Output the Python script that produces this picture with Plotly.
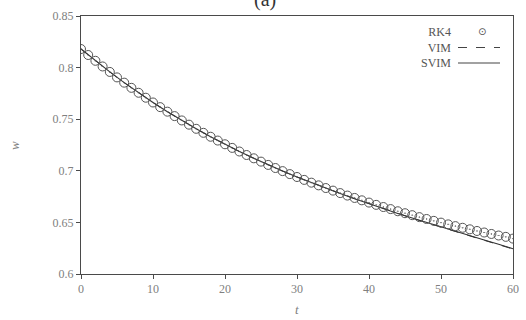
import plotly.graph_objects as go

# Time grid and solutions
t_rk4 = list(range(0, 61))
w_rk4 = [
    0.8180, 0.8122, 0.8066, 0.8011, 0.7958, 0.7905, 0.7854, 0.7804, 0.7756, 0.7708,
    0.7662, 0.7617, 0.7573, 0.7530, 0.7488, 0.7447, 0.7407, 0.7368, 0.7330, 0.7293,
    0.7257, 0.7222, 0.7187, 0.7153, 0.7121, 0.7089, 0.7057, 0.7027, 0.6997, 0.6968,
    0.6940, 0.6912, 0.6885, 0.6859, 0.6833, 0.6808, 0.6784, 0.6760, 0.6737, 0.6714,
    0.6692, 0.6670, 0.6649, 0.6629, 0.6608, 0.6589, 0.6570, 0.6551, 0.6533, 0.6515,
    0.6498, 0.6481, 0.6464, 0.6448, 0.6433, 0.6417, 0.6402, 0.6388, 0.6373, 0.6360,
    0.6343,
]

t_line = list(range(0, 61, 2))
w_svim = [
    0.8180, 0.8066, 0.7958, 0.7854, 0.7756, 0.7662, 0.7573, 0.7488, 0.7407, 0.7330,
    0.7257, 0.7187, 0.7121, 0.7057, 0.6997, 0.6940, 0.6885, 0.6831, 0.6780, 0.6730,
    0.6681, 0.6633, 0.6587, 0.6542, 0.6498, 0.6455, 0.6412, 0.6371, 0.6329, 0.6289,
    0.6245,
]
w_vim = [
    0.8180, 0.8066, 0.7958, 0.7854, 0.7756, 0.7662, 0.7573, 0.7488, 0.7407, 0.7330,
    0.7257, 0.7187, 0.7121, 0.7057, 0.6997, 0.6940, 0.6885, 0.6831, 0.6780, 0.6730,
    0.6681, 0.6633, 0.6586, 0.6541, 0.6497, 0.6454, 0.6411, 0.6369, 0.6327, 0.6286,
    0.6242,
]

legend_labels = ["RK4", "VIM", "SVIM"]
x_ticks = [0, 10, 20, 30, 40, 50, 60]
y_ticks = [0.6, 0.65, 0.7, 0.75, 0.8, 0.85]
y_tick_text = ["0.6", "0.65", "0.7", "0.75", "0.8", "0.85"]

SERIF = "Liberation Serif"
INK = "#4a4a4a"
LABEL = "#808080"

fig = go.Figure()
fig.add_trace(go.Scatter(
    x=t_line, y=w_svim, mode="lines", name="SVIM",
    line=dict(color="#333333", width=1.1),
))
fig.add_trace(go.Scatter(
    x=t_line, y=w_vim, mode="lines", name="VIM",
    line=dict(color="#333333", width=1.0, dash="dash"),
))
fig.add_trace(go.Scatter(
    x=t_rk4, y=w_rk4, mode="markers", name="RK4",
    marker=dict(symbol="circle-open-dot", size=9, color="#555555",
                line=dict(color="#555555", width=1)),
))

# Plot-area pixel helpers for the hand-placed legend and labels
def px_x(p):
    return (p - 81) / 432.0

def px_y(p):
    return (274 - p) / 258.0

annotations = [
    # legend labels, right-aligned, samples drawn to their right
    dict(x=px_x(453), y=px_y(47), xref="paper", yref="paper",
         text="<br>".join(legend_labels), align="right", showarrow=False,
         xanchor="right", yanchor="middle",
         font=dict(family=SERIF, size=12, color="#555555")),
    dict(x=px_x(482), y=px_y(31.5), xref="paper", yref="paper",
         text="⊙", showarrow=False, xanchor="center", yanchor="middle",
         font=dict(family="DejaVu Sans", size=10, color="#555555")),
    # panel label at the top edge
    dict(x=px_x(265), y=px_y(-1), xref="paper", yref="paper",
         text="(a)", showarrow=False, xanchor="center", yanchor="middle",
         font=dict(family=SERIF, size=20, color="#333333")),
    # axis titles
    dict(x=0.5, y=px_y(309), xref="paper", yref="paper",
         text="<i>t</i>", showarrow=False, xanchor="center", yanchor="middle",
         font=dict(family=SERIF, size=13, color=LABEL)),
    dict(x=px_x(14), y=px_y(146), xref="paper", yref="paper",
         text="<i>w</i>", showarrow=False, xanchor="center", yanchor="middle",
         textangle=-90, font=dict(family=SERIF, size=13, color=LABEL)),
]

shapes = [
    dict(type="line", xref="paper", yref="paper",
         x0=px_x(458), x1=px_x(500), y0=px_y(47.5), y1=px_y(47.5),
         line=dict(color="#444444", width=1, dash="dash")),
    dict(type="line", xref="paper", yref="paper",
         x0=px_x(458), x1=px_x(500), y0=px_y(63), y1=px_y(63),
         line=dict(color="#444444", width=1.1)),
]

fig.update_layout(
    width=526, height=320,
    margin=dict(l=81, r=13, t=16, b=46),
    paper_bgcolor="white", plot_bgcolor="rgba(0,0,0,0)",
    showlegend=False,
    annotations=annotations,
    shapes=shapes,
    font=dict(family=SERIF, color=LABEL, size=12),
)
fig.update_xaxes(
    range=[0, 60], tickvals=x_ticks, ticks="outside", ticklen=4,
    tickcolor=INK, showline=True, linecolor=INK, linewidth=1, mirror=True,
    showgrid=False, zeroline=False, automargin=False,
    tickfont=dict(family=SERIF, size=12, color=LABEL),
)
fig.update_yaxes(
    range=[0.6, 0.85], tickvals=y_ticks, ticktext=y_tick_text, ticks="outside",
    ticklen=4, tickcolor=INK, showline=True, linecolor=INK, linewidth=1,
    mirror=True, showgrid=False, zeroline=False, automargin=False,
    tickfont=dict(family=SERIF, size=12, color=LABEL),
)

fig.write_html("out.html")
